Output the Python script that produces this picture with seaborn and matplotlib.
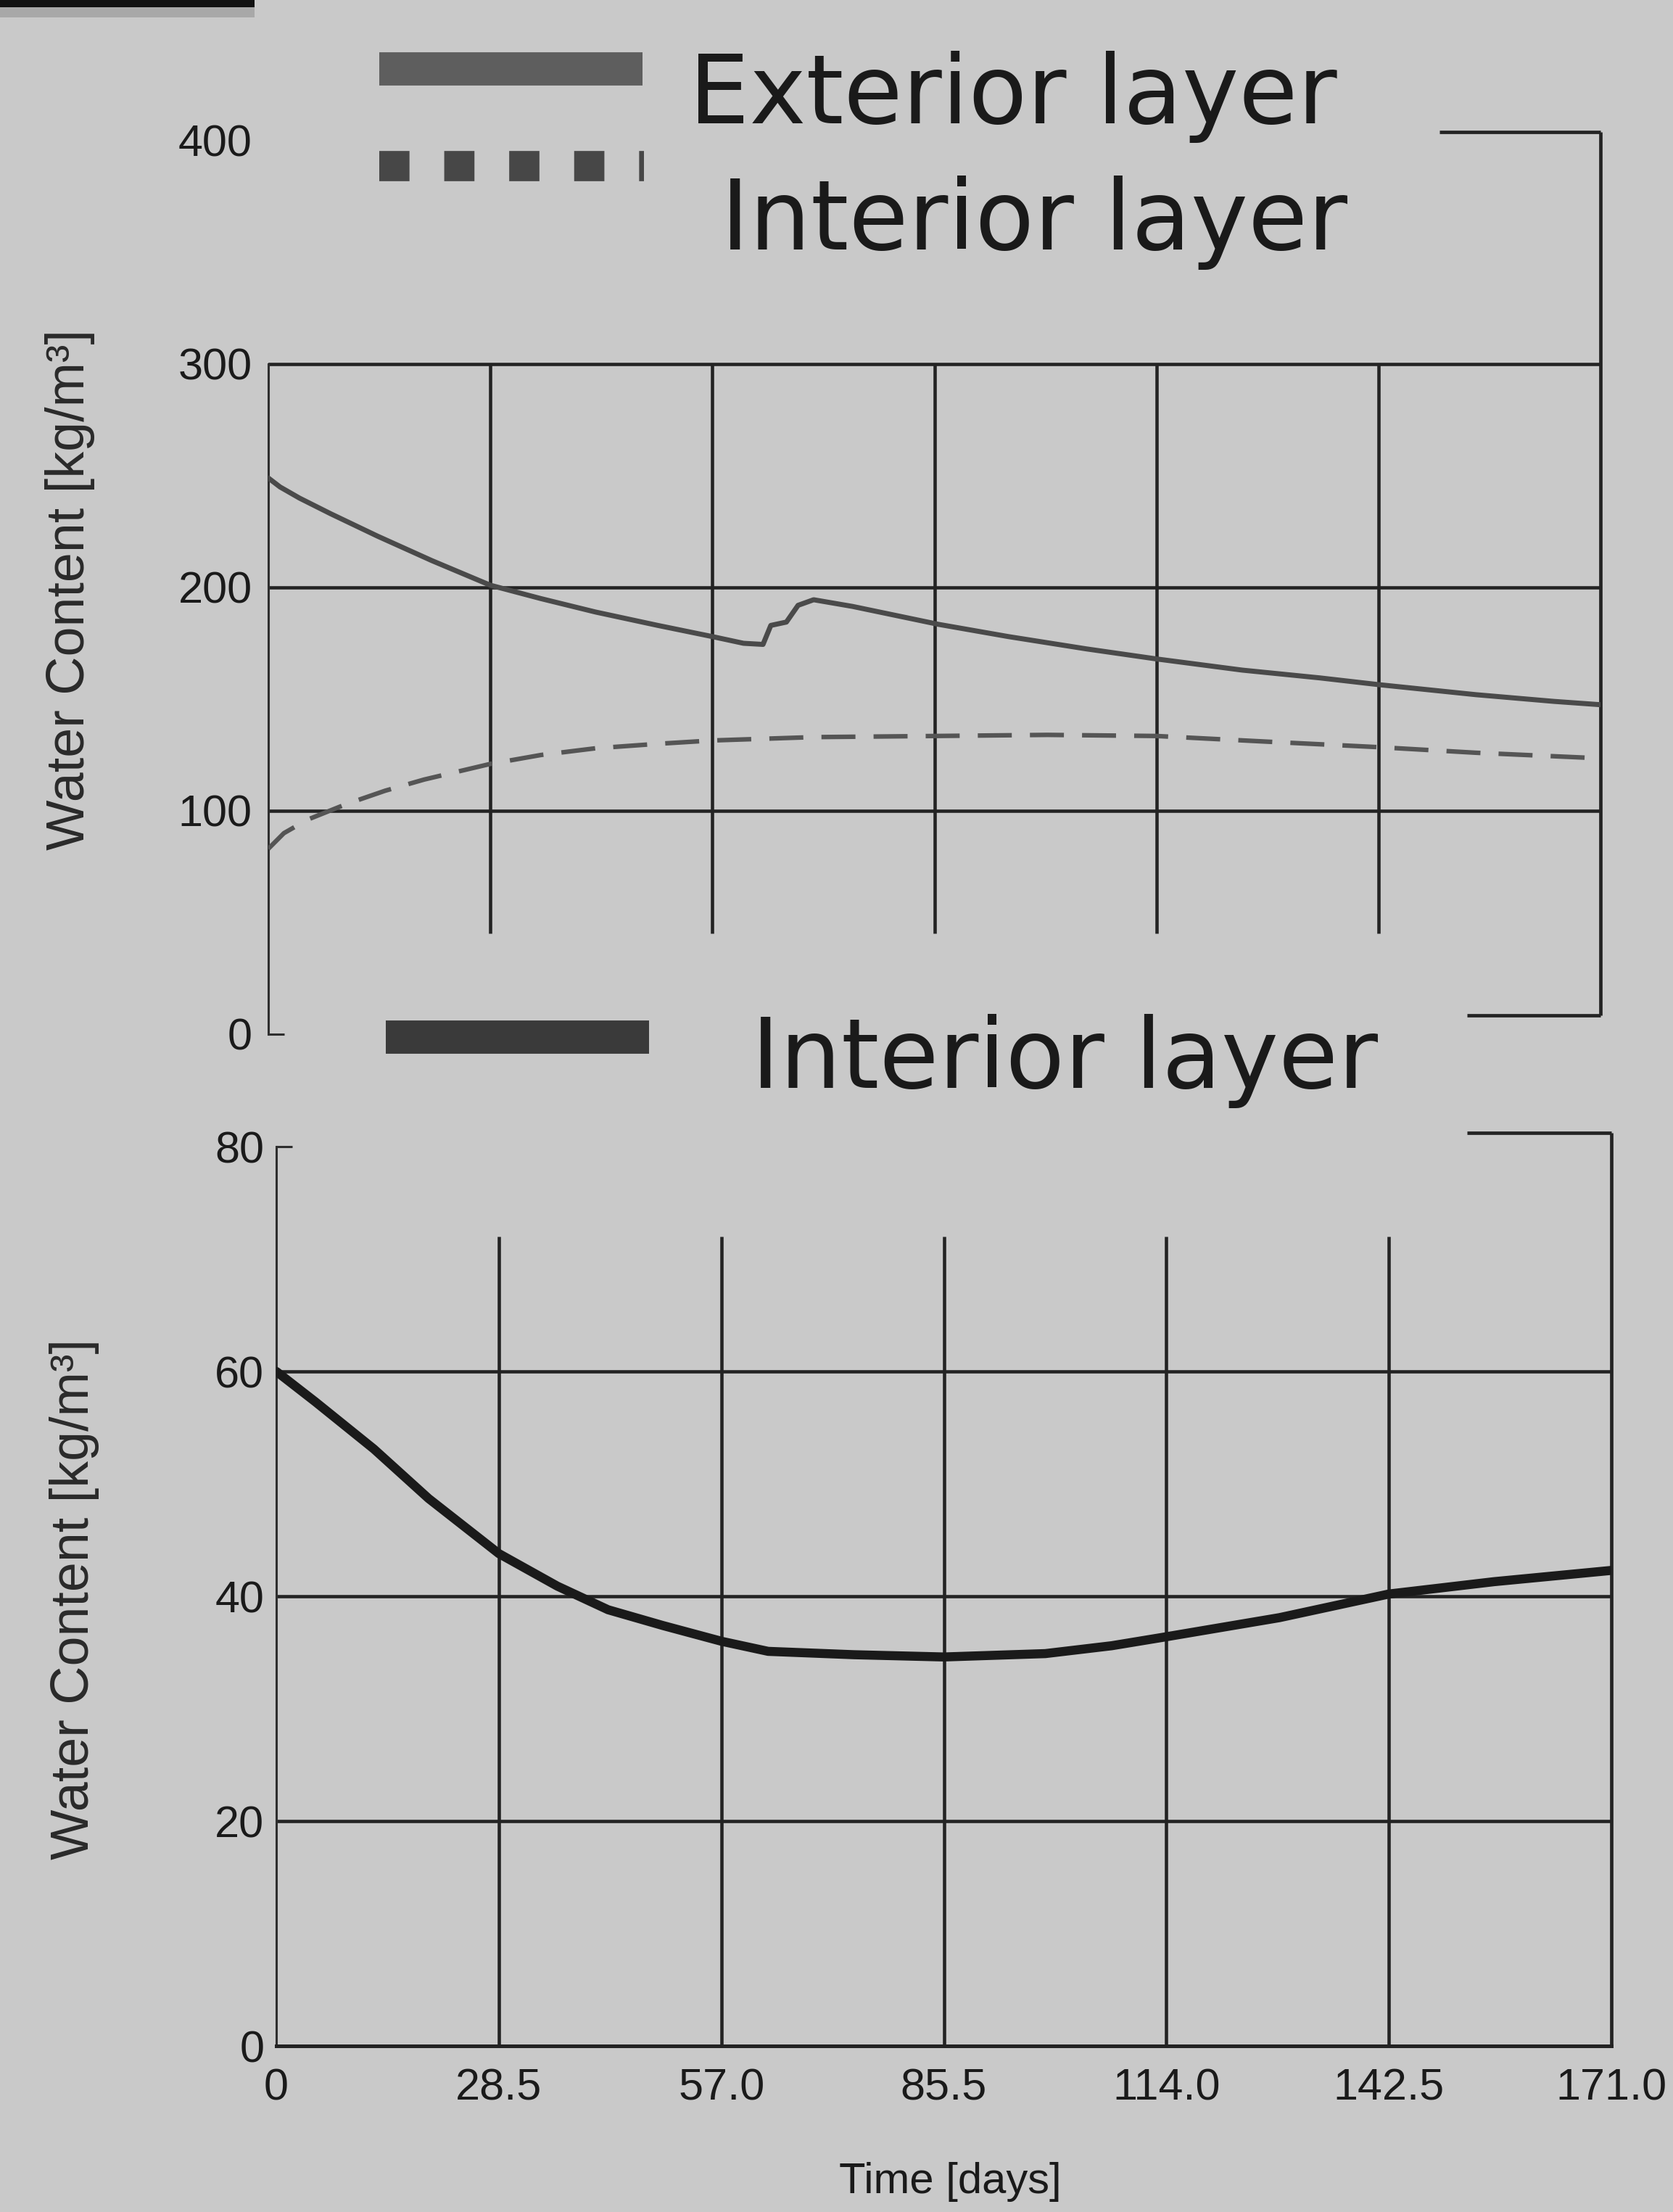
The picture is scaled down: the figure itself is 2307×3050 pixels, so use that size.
import numpy as np
import pandas as pd
import matplotlib
matplotlib.use("Agg")
import matplotlib.pyplot as plt
from matplotlib.lines import Line2D
from matplotlib.patches import Rectangle
import seaborn as sns

# ---------------- data ----------------
ext_t = [0, 1.5, 4, 8, 14, 21, 28.5, 35, 42, 50, 57, 61, 63.5, 64.5, 66.5, 68, 70, 75,
         86, 95, 105, 114, 125, 135, 142.5, 155, 165, 171]
ext_v = [249, 245, 240, 233, 223, 212, 201, 195, 189, 183, 178, 175, 174.5, 183, 184.5,
         192, 194.5, 191.5, 183.5, 178, 172.5, 168, 163, 159.5, 156.5, 152, 149, 147.5]

int_t = [0, 2, 5, 10, 15, 20, 28.5, 35, 42, 50, 57, 70, 85.5, 100, 114, 128, 142.5, 155, 171]
int_v = [83, 90, 96, 103, 109, 114, 121, 125, 128, 130, 131.5, 133, 133.5, 134, 133.5,
         131, 128.5, 126, 123.5]

bot_t = [0, 5, 12.5, 19.5, 28.5, 36, 42.5, 49.5, 57, 63, 74, 85.5, 98.5, 107, 114,
         128.5, 142.5, 156, 171]
bot_v = [60, 57.3, 53.1, 48.7, 43.8, 40.9, 38.8, 37.4, 36, 35.1, 34.8, 34.6, 34.9,
         35.6, 36.4, 38.1, 40.2, 41.3, 42.3]

x_ticks = [0, 28.5, 57.0, 85.5, 114.0, 142.5, 171.0]
x_ticklabels = ["0", "28.5", "57.0", "85.5", "114.0", "142.5", "171.0"]
top_yticks = [0, 100, 200, 300, 400]
bot_yticks = [0, 20, 40, 60, 80]
ylabel = "Water Content [kg/m³]"
xlabel = "Time [days]"
legend_top = ["Exterior layer", "Interior layer"]
legend_bot = "Interior layer"

# ---------------- style ----------------
BG = "#c9c9c9"
GRID = "#232323"
GLW = 3.3
sns.set_theme(style="white")
plt.rcParams["font.family"] = ["Liberation Sans", "DejaVu Sans"]

W, H = 2307, 3050
DPI = 100
fig = plt.figure(figsize=(W / DPI, H / DPI), dpi=DPI)
fig.patch.set_facecolor(BG)


def fx(px):
    return px / W


def fy(py):
    return 1 - py / H


# axes positions (pixels from top-left)
ax1 = fig.add_axes([fx(370), fy(1426), fx(2207) - fx(370), fy(194) - fy(1426)])
ax2 = fig.add_axes([fx(381), fy(2821), fx(2222) - fx(381), fy(1581) - fy(2821)])

df_ext = pd.DataFrame({"t": ext_t, "v": ext_v})
df_int = pd.DataFrame({"t": int_t, "v": int_v})
df_bot = pd.DataFrame({"t": bot_t, "v": bot_v})

for ax in (ax1, ax2):
    ax.set_facecolor("none")
    for s in ax.spines.values():
        s.set_visible(False)

# ----- top panel -----
ax1.set_xlim(0, 171)
ax1.set_ylim(0, 400)
for yv in [100, 200, 300]:
    ax1.axhline(yv, color=GRID, lw=GLW, zorder=1)
ax1.vlines(x_ticks[1:-1], 45, 300, color=GRID, lw=GLW, zorder=1)
ax1.spines["left"].set_visible(True)
ax1.spines["left"].set_bounds(0, 300)
ax1.spines["left"].set_color("#2e2e2e")
ax1.spines["left"].set_linewidth(2.2)

sns.lineplot(data=df_ext, x="t", y="v", ax=ax1, color="#4a4a4a", lw=5, zorder=3)
sns.lineplot(data=df_int, x="t", y="v", ax=ax1, color="#555555", lw=4.5, zorder=3,
             dashes=False)
ax1.lines[-1].set_dashes([7.5, 4])

ax1.set_xticks([])
ax1.set_yticks(top_yticks)
ax1.set_yticklabels([str(v) for v in top_yticks], fontsize=44, color="#1a1a1a")
ax1.tick_params(axis="y", direction="in", length=16, width=2.2, color="#2e2e2e",
                pad=16, left=True)
ax1.yaxis.get_major_ticks()[-1].tick1line.set_visible(False)
ax1.set_xlabel("")
ax1.set_ylabel("")

# right bracket (frame decoration)
for xs, ys in [((0.879, 1.0), (1.01, 1.01)), ((1.0, 1.0), (1.01, 0.021)),
               ((0.90, 1.0), (0.021, 0.021))]:
    ax1.add_line(Line2D(xs, ys, transform=ax1.transAxes, color=GRID, lw=3.4,
                        clip_on=False, solid_capstyle="butt"))

# ----- bottom panel -----
ax2.set_xlim(0, 171)
ax2.set_ylim(0, 80)
for yv in [20, 40, 60]:
    ax2.axhline(yv, color=GRID, lw=GLW, zorder=1)
ax2.vlines(x_ticks[1:-1], 0, 72, color=GRID, lw=GLW, zorder=1)
ax2.spines["bottom"].set_visible(True)
ax2.spines["bottom"].set_color(GRID)
ax2.spines["bottom"].set_linewidth(3.6)
ax2.spines["left"].set_visible(True)
ax2.spines["left"].set_color("#2e2e2e")
ax2.spines["left"].set_linewidth(2.2)

sns.lineplot(data=df_bot, x="t", y="v", ax=ax2, color="#1a1a1a", lw=9, zorder=3)

ax2.set_xticks(x_ticks)
ax2.set_xticklabels(x_ticklabels, fontsize=44, color="#1a1a1a")
ax2.tick_params(axis="x", length=0, pad=22, bottom=True)
ax2.set_yticks(bot_yticks)
ax2.set_yticklabels([str(v) for v in bot_yticks], fontsize=44, color="#1a1a1a")
ax2.tick_params(axis="y", direction="in", length=16, width=2.2, color="#2e2e2e",
                pad=12, left=True)
ax2.set_xlabel("")
ax2.set_ylabel("")

for xs, ys in [((0.892, 1.0), (1.015, 1.015)), ((1.0, 1.0), (1.015, 0.0))]:
    ax2.add_line(Line2D(xs, ys, transform=ax2.transAxes, color=GRID, lw=3.4,
                        clip_on=False, solid_capstyle="butt"))

# ----- axis labels -----
fig.text(fx(97), fy(813), ylabel, rotation=90, ha="center", va="center",
         fontsize=53, color="#2a2a2a")
fig.text(fx(103), fy(2205), ylabel, rotation=90, ha="center", va="center",
         fontsize=53, color="#2a2a2a")
fig.text(fx(1310), fy(3008), xlabel, ha="center", va="center", fontsize=43,
         color="#1a1a1a")

# ----- legend swatches and texts -----
fig.add_artist(Line2D([fx(523), fx(886)], [fy(95), fy(95)], color="#5e5e5e",
                      lw=33, solid_capstyle="butt"))
dash = Line2D([fx(523), fx(888)], [fy(229), fy(229)], color="#474747", lw=30,
              dash_capstyle="butt")
dash.set_dashes([1.0, 1.15])
fig.add_artist(dash)
fig.add_artist(Line2D([fx(532), fx(895)], [fy(1430), fy(1430)], color="#3a3a3a",
                      lw=33, solid_capstyle="butt"))

big = ["DejaVu Sans"]
fig.text(fx(950), fy(170), legend_top[0], ha="left", va="baseline", fontsize=95,
         color="#1a1a1a", family=big)
fig.text(fx(994), fy(344), legend_top[1], ha="left", va="baseline", fontsize=96,
         color="#1a1a1a", family=big)
fig.text(fx(1036), fy(1500), legend_bot, ha="left", va="baseline", fontsize=96,
         color="#1a1a1a", family=big)

# top-left black bar from the scanned page
fig.add_artist(Rectangle((0, fy(10)), fx(351), fy(0) - fy(10), transform=fig.transFigure,
                         color="#111111", lw=0))
fig.add_artist(Rectangle((0, fy(24)), fx(351), fy(10) - fy(24), transform=fig.transFigure,
                         color="#a8a8a8", lw=0))

fig.savefig("out.png", dpi=DPI, facecolor=BG)
